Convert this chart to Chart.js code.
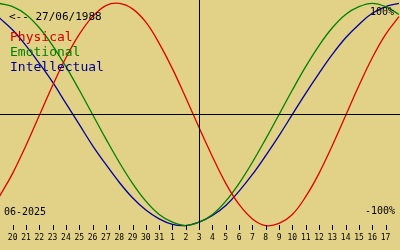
<!DOCTYPE html>
<html>
<head>
<meta charset="utf-8">
<script src="https://cdn.jsdelivr.net/npm/chart.js@4"></script>
<style>
  html, body { margin: 0; padding: 0; background: #e1d287; }
  canvas { display: block; }
</style>
</head>
<body>
<canvas id="bio" width="400" height="250"></canvas>
<script>
// day ticks along the bottom (first tick = index 0)
const dayLabels = ["20", "21", "22", "23", "24", "25", "26", "27", "28", "29", "30", "31",
  "1", "2", "3", "4", "5", "6", "7", "8", "9", "10", "11", "12", "13", "14", "15", "16", "17"];
const todayIndex = 14;
const monthLabel = "06-2025";
const birthLabel = "<-- 27/06/1988";

// values in %, one per day, starting one day before the first tick and ending one after the last
const physical = [-74, -53, -28, -1, 26, 51, 72, 88, 98, 100, 95, 83, 64, 41, 15, -12, -38, -62, -81,
  -94, -100, -98, -90, -74, -53, -28, -1, 26, 51, 72, 88];
const emotional = [100, 97, 90, 78, 62, 43, 22, 0, -22, -43, -62, -78, -90, -97, -100, -97, -90,
  -78, -62, -43, -22, 0, 22, 43, 62, 78, 90, 97, 100, 97, 90];
const intellectual = [87, 76, 62, 46, 29, 10, -9, -28, -45, -61, -75, -86, -94, -99, -100, -97, -91,
  -82, -69, -54, -37, -19, 0, 19, 37, 54, 69, 81, 91, 97, 100];

const bg = "#e1d287";
const mono = "'DejaVu Sans Mono', 'Liberation Mono', monospace";

function toPoints(vals) {
  return vals.map((v, i) => ({ x: i - 1, y: v }));
}

const decor = {
  id: "decor",
  beforeDraw(chart) {
    const ctx = chart.ctx;
    ctx.save();
    ctx.fillStyle = bg;
    ctx.fillRect(0, 0, chart.width, chart.height);
    ctx.restore();
  },
  afterDatasetsDraw(chart) {
    const ctx = chart.ctx;
    const xs = chart.scales.x;
    const ys = chart.scales.y;
    const y0 = Math.round(ys.getPixelForValue(0)) + 0.5;
    const xt = Math.round(xs.getPixelForValue(todayIndex)) + 0.5;
    ctx.save();
    ctx.strokeStyle = "#000";
    ctx.lineWidth = 1;
    ctx.beginPath();
    ctx.moveTo(0, y0);
    ctx.lineTo(chart.width, y0);
    ctx.moveTo(xt, 0);
    ctx.lineTo(xt, 230);
    ctx.stroke();

    // day ticks and labels
    ctx.beginPath();
    dayLabels.forEach((lab, i) => {
      const x = Math.round(xs.getPixelForValue(i)) + 0.5;
      ctx.moveTo(x, 225);
      ctx.lineTo(x, 230);
    });
    ctx.stroke();
    ctx.fillStyle = "#000";
    ctx.font = "8px " + mono;
    ctx.textAlign = "center";
    ctx.textBaseline = "middle";
    dayLabels.forEach((lab, i) => {
      ctx.fillText(lab, xs.getPixelForValue(i), 238);
    });

    ctx.font = "10px " + mono;
    ctx.textAlign = "left";
    ctx.fillText(monthLabel, 4, 212);
    ctx.font = "11px " + mono;
    ctx.fillText(birthLabel, 9, 17);
    ctx.font = "10px " + mono;
    ctx.textAlign = "right";
    ctx.fillText("100%", 394, 12);
    ctx.fillText("-100%", 395, 211);

    ctx.font = "13px " + mono;
    ctx.textAlign = "left";
    ctx.fillStyle = "#d00000";
    ctx.fillText("Physical", 10, 38);
    ctx.fillStyle = "#008000";
    ctx.fillText("Emotional", 10, 53);
    ctx.fillStyle = "#000090";
    ctx.fillText("Intellectual", 10, 68);
    ctx.restore();
  }
};

new Chart(document.getElementById("bio"), {
  type: "line",
  data: {
    datasets: [
      { label: "Physical", data: toPoints(physical), borderColor: "#e00000" },
      { label: "Emotional", data: toPoints(emotional), borderColor: "#008000" },
      { label: "Intellectual", data: toPoints(intellectual), borderColor: "#0000a0" },
    ],
  },
  options: {
    responsive: false,
    animation: false,
    layout: { padding: 0 },
    elements: {
      point: { radius: 0 },
      line: { borderWidth: 1.3, tension: 0.4, fill: false },
    },
    plugins: { legend: { display: false }, tooltip: { enabled: false } },
    scales: {
      x: { type: "linear", min: -0.95, max: 29.08, display: false },
      y: { min: -122, max: 103, display: false },
    },
  },
  plugins: [decor],
});
</script>
</body>
</html>
